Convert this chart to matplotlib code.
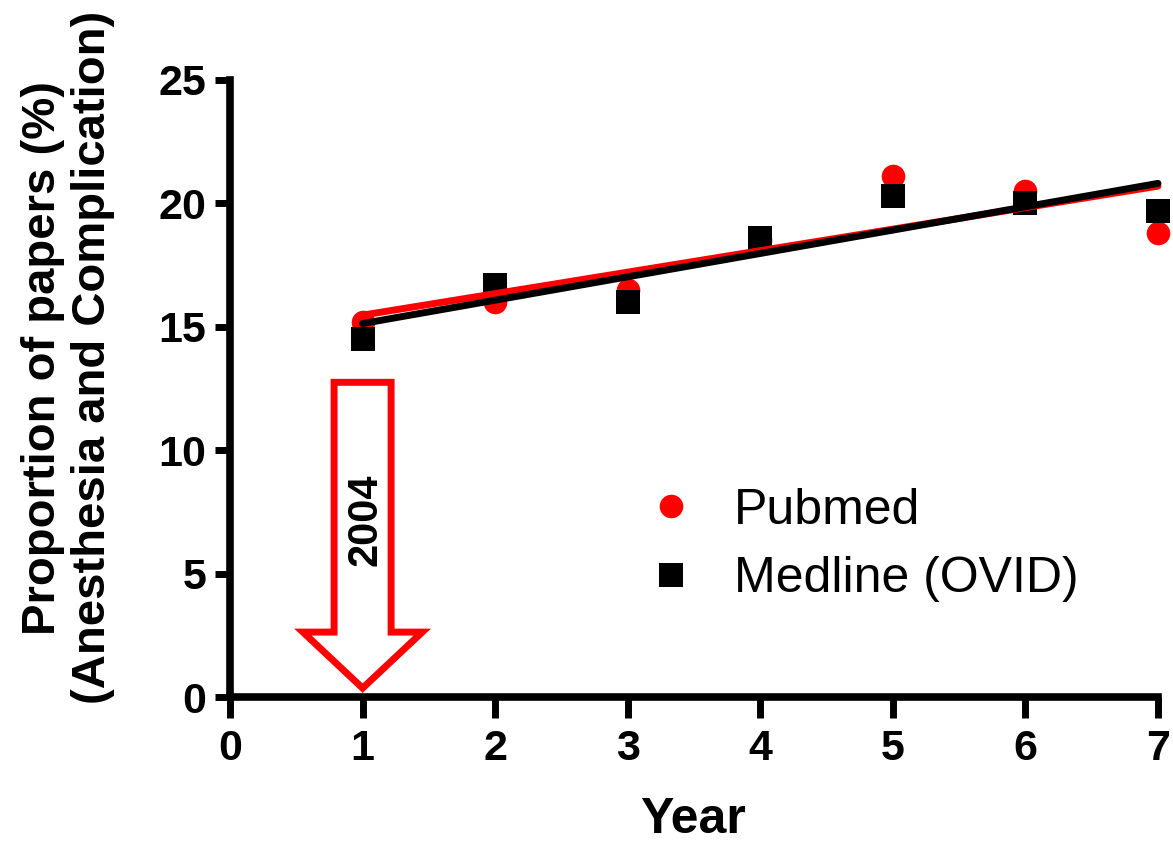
import matplotlib
matplotlib.use("Agg")
import matplotlib.pyplot as plt
from matplotlib.patches import FancyArrow
import numpy as np

# proportion of papers per year (year 1 = 2004)
years = np.array([1, 2, 3, 4, 5, 6, 7])
pubmed = np.array([15.2, 16.0, 16.5, 18.5, 21.1, 20.5, 18.8])
medline = np.array([14.5, 16.7, 16.0, 18.6, 20.3, 20.0, 19.7])

x_ticks = [0, 1, 2, 3, 4, 5, 6, 7]
y_ticks = [0, 5, 10, 15, 20, 25]

RED = "#ff0000"
BLACK = "#000000"

plt.rcParams["font.family"] = ["Liberation Sans", "DejaVu Sans"]

fig = plt.figure(figsize=(11.73, 8.42), dpi=100)
ax = fig.add_axes([0.1961, 0.1722, 0.7911, 0.7328])

# data points
ax.plot(years, pubmed, "o", color=RED, ms=17, mew=0, label="Pubmed",
        clip_on=False, zorder=3)
ax.plot(years, medline, "s", color=BLACK, ms=17, mew=0, label="Medline (OVID)",
        clip_on=False, zorder=3)

# linear fits
xf = np.array([years.min(), years.max()])
for ys, c in [(pubmed, RED), (medline, BLACK)]:
    k, b = np.polyfit(years, ys, 1)
    ax.plot(xf, k * xf + b, color=c, lw=5, solid_capstyle="round",
            clip_on=False, zorder=4)

# 2004 marker arrow
arr = FancyArrow(1, 12.75, 0, -12.39, width=0.43, head_width=0.9,
                 head_length=2.27, length_includes_head=True,
                 fc="white", ec=RED, lw=5, zorder=5, clip_on=False)
ax.add_patch(arr)
ax.text(1.02, 7.2, "2004", rotation=90, ha="center", va="center",
        fontsize=30, fontweight="bold", color=BLACK, zorder=6)

# axes styling
ax.set_xlim(0, 7)
ax.set_ylim(0, 25)
ax.set_xticks(x_ticks)
ax.set_yticks(y_ticks)
for side in ["top", "right"]:
    ax.spines[side].set_visible(False)
for side in ["left", "bottom"]:
    ax.spines[side].set_linewidth(5.5)
ax.tick_params(axis="x", length=15, width=5, pad=8, labelsize=31)
ax.tick_params(axis="y", length=11, width=5, pad=6, labelsize=31)
for lab in ax.get_xticklabels() + ax.get_yticklabels():
    lab.set_fontweight("bold")

fig.text(0.058, 0.575, "Proportion of papers (%)\n(Anesthesia and Complication)",
         rotation=90, ha="center", va="center", fontsize=34,
         fontweight="bold", multialignment="center", linespacing=1.15)
fig.text(0.591, 0.026, "Year", ha="center", va="center", fontsize=36,
         fontweight="bold")

ax.legend(loc="upper left", bbox_to_anchor=(0.553, 0.421),
          bbox_transform=fig.transFigure, frameon=False, fontsize=36,
          handletextpad=0.8, labelspacing=0.45, handlelength=0.9,
          borderaxespad=0, borderpad=0)

fig.savefig("out.png", dpi=100, facecolor="white")
